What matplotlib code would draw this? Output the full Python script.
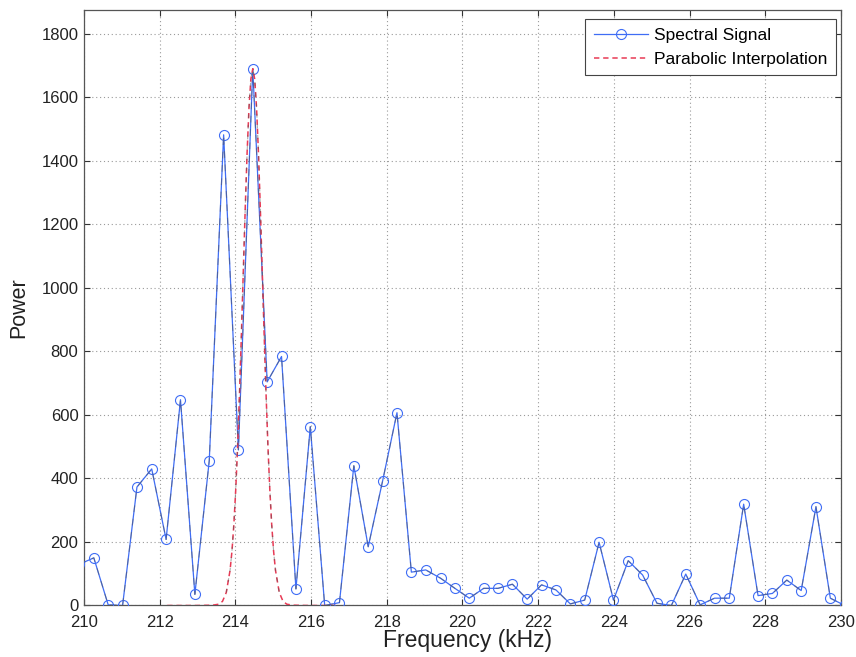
import matplotlib
matplotlib.use("Agg")
import matplotlib.pyplot as plt
import numpy as np

# spectrum bins (kHz) and power, one bin either side runs past the axis limits
freq_khz = [209.88, 210.26, 210.64, 211.02, 211.40, 211.79, 212.17, 212.55, 212.93,
            213.31, 213.69, 214.08, 214.46, 214.84, 215.22, 215.60, 215.98, 216.36,
            216.75, 217.13, 217.51, 217.89, 218.27, 218.65, 219.03, 219.42, 219.80,
            220.18, 220.56, 220.94, 221.32, 221.71, 222.09, 222.47, 222.85, 223.23,
            223.61, 223.99, 224.38, 224.76, 225.14, 225.52, 225.90, 226.28, 226.66,
            227.05, 227.43, 227.81, 228.19, 228.57, 228.95, 229.34, 229.72, 230.10]
power = [130, 150, 2, 0, 373, 430, 208, 648, 35, 456, 1482, 490, 1690, 704, 784, 52,
         563, 0, 9, 440, 185, 392, 607, 105, 112, 86, 54, 23, 54, 54, 67, 20, 65, 49,
         5, 17, 199, 17, 141, 96, 7, 0, 99, 2, 23, 23, 319, 31, 38, 80, 47, 311, 23, 0]

# interpolated peak shape around the main bin
interp_khz = [212.20, 212.60, 213.00, 213.40, 213.56, 213.66, 213.76, 213.86, 213.91,
              213.96, 214.01, 214.06, 214.11, 214.16, 214.21, 214.26, 214.31, 214.36,
              214.41, 214.46, 214.51, 214.56, 214.61, 214.66, 214.71, 214.76, 214.81,
              214.86, 214.91, 214.96, 215.01, 215.06, 215.16, 215.26, 215.36, 215.52,
              215.90, 216.30, 216.65]
interp_power = [0, 0, 0, 1, 4, 13, 41, 111, 171, 255, 365, 503, 669, 855, 1053, 1248,
                1425, 1567, 1658, 1690, 1658, 1567, 1425, 1248, 1053, 855, 669, 503,
                365, 255, 171, 111, 41, 13, 4, 1, 0, 0, 0]

x_ticks = [210, 212, 214, 216, 218, 220, 222, 224, 226, 228, 230]
y_ticks = [0, 200, 400, 600, 800, 1000, 1200, 1400, 1600, 1800]

BLUE = "#3f6df5"
RED = "#e83a55"
DARK = "#555555"

plt.rcParams["font.family"] = ["Liberation Sans", "DejaVu Sans"]

fig = plt.figure(figsize=(8.56, 6.57), dpi=100)
ax = fig.add_axes([0.0981, 0.0784, 0.8843, 0.9064])

ax.plot(freq_khz, power, color=BLUE, lw=0.9, marker="o", markersize=7.2,
        markerfacecolor="none", markeredgecolor=BLUE, markeredgewidth=0.8,
        label="Spectral Signal", zorder=3)
ax.plot(freq_khz, power, color=DARK, lw=0.8, dashes=(6, 6), alpha=0.5, zorder=3.5)

ax.plot(interp_khz, interp_power, color=RED, lw=1.1, dashes=(3.5, 2.5),
        label="Parabolic Interpolation", zorder=4)
ik = np.array(interp_khz)
ip = np.array(interp_power)
flank = ip > 20
ax.plot(ik[flank], ip[flank], color=DARK, lw=0.8, dashes=(3.5, 6), alpha=0.5, zorder=4.5)

ax.set_xlim(210, 230)
ax.set_ylim(0, 1875)
ax.set_xticks(x_ticks)
ax.set_yticks(y_ticks)
ax.tick_params(direction="in", length=4.3, width=0.8, top=True, right=True,
               labelsize=12, colors="#333333", labelcolor="#222222")
ax.tick_params(axis="x", pad=6.5)
ax.tick_params(axis="y", pad=4)
ax.grid(True, color="#9a9a9a", linestyle=(0, (1, 2.5)), lw=0.8)
ax.set_axisbelow(True)
for spine in ax.spines.values():
    spine.set_color("#555555")
    spine.set_linewidth(0.9)

ax.set_xlabel("Frequency (kHz)", fontsize=16.5, color="#222222")
ax.xaxis.set_label_coords(0.507, -0.039, transform=ax.transAxes)
ax.xaxis.label.set_verticalalignment("top")
ax.set_ylabel("Power", fontsize=15.5, color="#222222", labelpad=9)

leg = ax.legend(loc="upper right", bbox_to_anchor=(1 - 5 / 757, 1 - 9 / 595.5),
                borderaxespad=0, fontsize=12.5, fancybox=False, framealpha=1,
                edgecolor="#444444", handlelength=3.1, handletextpad=0.35,
                labelspacing=0.5, borderpad=0.5)
leg.get_frame().set_linewidth(0.8)

fig.savefig("out.png", dpi=100)
